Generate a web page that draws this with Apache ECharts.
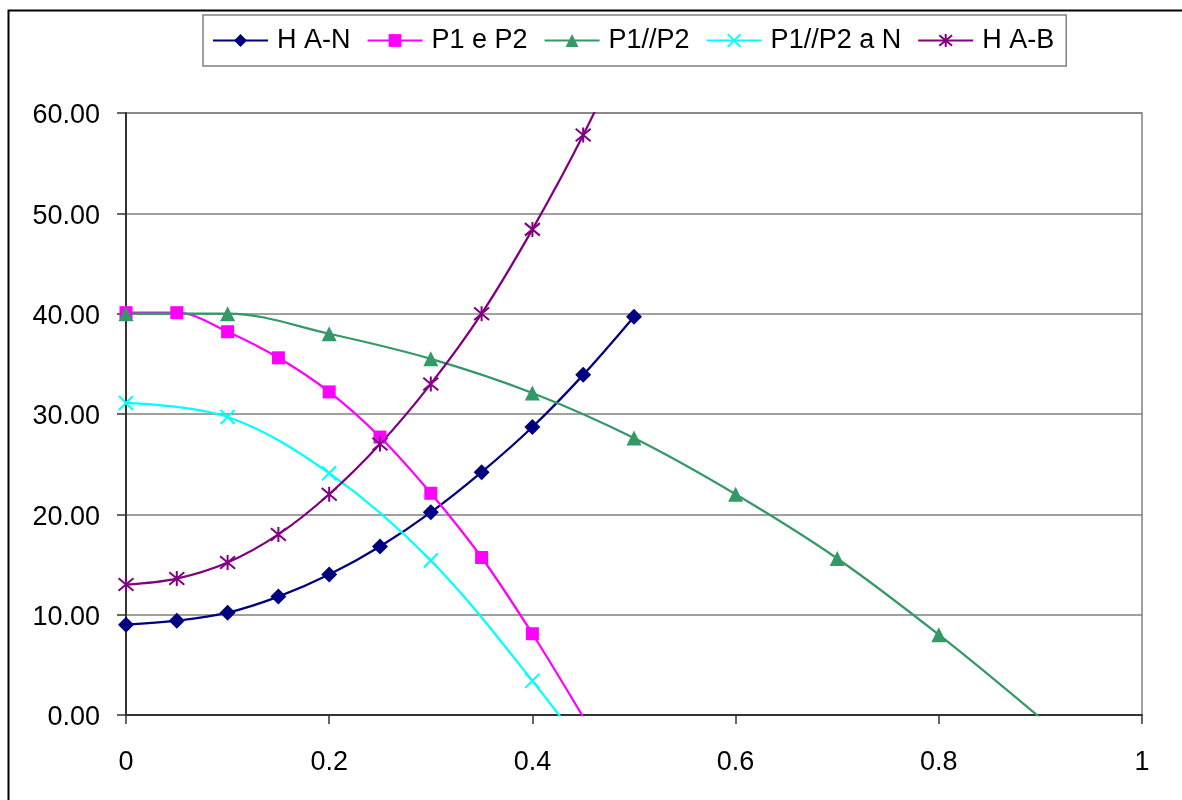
<!DOCTYPE html>
<html>
<head>
<meta charset="utf-8">
<script src="https://cdn.jsdelivr.net/npm/echarts@6/dist/echarts.min.js"></script>
<style>
html,body{margin:0;padding:0;background:#fff;}
#chart{width:1182px;height:800px;}
</style>
</head>
<body>
<div id="chart"></div>
<script>
// ---- data ----
const seriesNames = ['H A-N', 'P1 e P2', 'P1//P2', 'P1//P2 a N', 'H A-B'];
const xHalfStep = [0, 0.05, 0.1, 0.15, 0.2, 0.25, 0.3, 0.35, 0.4, 0.45, 0.5];
const xFullStep = [0, 0.1, 0.2, 0.3, 0.4, 0.5, 0.6, 0.7, 0.8, 0.9];
const xCyan = [0, 0.1, 0.2, 0.3, 0.4, 0.5];
const hAN     = [9.0, 9.4, 10.2, 11.8, 14.0, 16.8, 20.2, 24.2, 28.7, 33.9, 39.7];
const p1eP2   = [40.1, 40.1, 38.2, 35.6, 32.2, 27.7, 22.1, 15.7, 8.1, -0.2];
const p1parP2 = [40.0, 40.0, 38.0, 35.5, 32.1, 27.6, 22.0, 15.6, 8.0, -0.3];
const p1parP2aN = [31.1, 29.7, 24.1, 15.4, 3.4, -10.0];
const hAB     = [13.0, 13.6, 15.2, 18.0, 22.0, 27.0, 33.0, 40.0, 48.4, 57.8, 68.5];
const yTicks = [0, 10, 20, 30, 40, 50, 60];
const xTicks = [0, 0.2, 0.4, 0.6, 0.8, 1];

function pairs(xs, ys) { return ys.map((y, i) => [xs[i], y]); }

const colors = ['#000080', '#FF00FF', '#339966', '#00FFFF', '#800080'];
const FONT = "'Liberation Sans', Arial, sans-serif";

function mkSeries(i, data, symbol, size, stroked) {
  const c = colors[i];
  const s = {
    name: seriesNames[i],
    type: 'line',
    data: data,
    smooth: 0.35,
    clip: true,
    symbol: symbol,
    symbolSize: size,
    showAllSymbol: true,
    lineStyle: { color: c, width: 2.25 },
    itemStyle: { color: c },
    emphasis: { disabled: true },
    animation: false
  };
  if (stroked) s.itemStyle = { color: c, borderColor: c, borderWidth: 2 };
  return s;
}

const chart = echarts.init(document.getElementById('chart'), null, { renderer: 'canvas' });
chart.setOption({
  backgroundColor: '#fff',
  animation: false,
  textStyle: { fontFamily: FONT },
  graphic: [{
    type: 'rect', left: 6, top: 8, silent: true,
    shape: { x: 0, y: 0, width: 1190, height: 810 },
    style: { fill: 'none', stroke: '#000', lineWidth: 2 }, z: -10
  }],
  legend: {
    left: 203, top: 15,
    padding: [12, 12, 12, 9],
    borderColor: '#808080', borderWidth: 1.5,
    itemWidth: 55, itemHeight: 16, itemGap: 16,
    textStyle: { fontFamily: FONT, fontSize: 27, color: '#000', padding: [0, 0, 0, 4] },
    data: seriesNames
  },
  grid: {
    left: 126, right: 40, top: 113, bottom: 85,
    show: true, borderColor: '#808080', borderWidth: 1.5, backgroundColor: '#fff'
  },
  xAxis: {
    type: 'value', min: xTicks[0], max: xTicks[xTicks.length - 1], interval: 0.2,
    axisLine: { show: true, lineStyle: { color: '#333', width: 2 } },
    axisTick: { show: true, inside: false, length: 9, lineStyle: { color: '#333', width: 1.5 } },
    axisLabel: { fontFamily: FONT, fontSize: 27, color: '#000', margin: 34,
      formatter: v => String(+v.toFixed(1)) },
    splitLine: { show: false }
  },
  yAxis: {
    type: 'value', min: yTicks[0], max: yTicks[yTicks.length - 1], interval: 10,
    axisLine: { show: true, lineStyle: { color: '#333', width: 2 } },
    axisTick: { show: true, inside: false, length: 9, lineStyle: { color: '#333', width: 1.5 } },
    axisLabel: { fontFamily: FONT, fontSize: 27, color: '#000', margin: 26,
      verticalAlign: 'top', lineHeight: 6,
      formatter: v => v.toFixed(2) },
    splitLine: { show: true, lineStyle: { color: '#808080', width: 1.5 } }
  },
  series: [
    mkSeries(0, pairs(xHalfStep, hAN), 'diamond', 16, false),
    mkSeries(1, pairs(xHalfStep, p1eP2), 'rect', 13, false),
    mkSeries(2, pairs(xFullStep, p1parP2), 'triangle', 15, false),
    mkSeries(3, pairs(xCyan, p1parP2aN), 'path://M0,0L10,10M10,0L0,10', 14, true),
    mkSeries(4, pairs(xHalfStep, hAB), 'path://M0,0L10,10M10,0L0,10M5,-1L5,11', 15, true)
  ]
});
</script>
</body>
</html>
